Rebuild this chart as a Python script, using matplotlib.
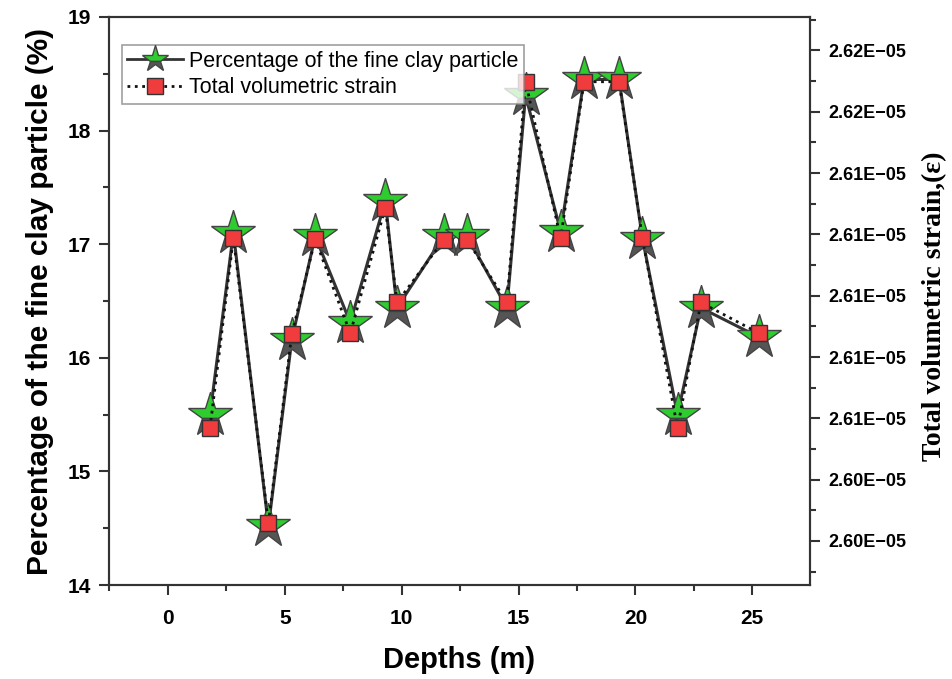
import matplotlib
matplotlib.use("Agg")
import matplotlib.pyplot as plt
from matplotlib.ticker import FixedLocator, FuncFormatter, MultipleLocator
from matplotlib.lines import Line2D

# ---- data ----
depth = [1.8, 2.8, 4.3, 5.3, 6.3, 7.8, 9.3, 9.8, 11.8, 12.8, 14.5, 15.3,
         16.8, 17.8, 19.3, 20.3, 21.8, 22.8, 25.3]
clay = [15.50, 17.10, 14.52, 16.16, 17.07, 16.31, 17.38, 16.44, 17.07, 17.07,
        16.44, 18.31, 17.11, 18.45, 18.45, 17.05, 15.50, 16.44, 16.18]
strain_e5 = [2.60548, 2.61168, 2.60239, 2.60855, 2.61164, 2.60857, 2.61267,
             2.60958, 2.61162, 2.61162, 2.60958, 2.61678, 2.61167, 2.61678,
             2.61678, 2.61167, 2.60547, 2.60958, 2.60857]
strain = [v * 1e-5 for v in strain_e5]

x_ticks = [0, 5, 10, 15, 20, 25]
left_ticks = [14, 15, 16, 17, 18, 19]
right_ticks_e5 = [2.6178, 2.6158, 2.6138, 2.6118, 2.6098, 2.6078, 2.6058, 2.6038, 2.6018]
right_ticks = [v * 1e-5 for v in right_ticks_e5]

label_clay = "Percentage of the fine clay particle"
label_strain = "Total volumetric strain"

plt.rcParams['font.family'] = ['Liberation Sans', 'DejaVu Sans']

fig = plt.figure(figsize=(9.53, 6.79), dpi=100)
ax = fig.add_axes([0.1144, 0.1384, 0.7356, 0.8366])
ax2 = ax.twinx()

frame_col = '#333333'
green = '#2ecc2e'
grey = '#555555'
red = '#f03c3c'

ax.plot(depth, clay, color='#333333', lw=2.2, ls='-', marker='*', ms=33,
        mfc=green, mfcalt=grey, fillstyle='top', mec='#444444', mew=1.0, zorder=3)
ax2.plot(depth, strain, color='#111111', lw=2.0, ls=':', marker='s', ms=11.5,
         mfc=red, mec='#333333', mew=1.0, zorder=3)

ax.set_xlim(-2.52, 27.47)
ax.set_ylim(14, 19)
ax2.set_ylim(2.600361e-5, 2.618893e-5)

ax.xaxis.set_major_locator(FixedLocator(x_ticks))
ax.xaxis.set_minor_locator(FixedLocator([-2.5, 2.5, 7.5, 12.5, 17.5, 22.5, 27.5]))
ax.yaxis.set_major_locator(FixedLocator(left_ticks))
ax.yaxis.set_minor_locator(MultipleLocator(0.5))
ax2.yaxis.set_major_locator(FixedLocator(right_ticks))
ax2.yaxis.set_minor_locator(FixedLocator([v - 1e-8 for v in right_ticks] + [right_ticks[0] + 1e-8]))
ax2.yaxis.set_major_formatter(FuncFormatter(lambda v, p: f"{v:.2E}".replace('-', '\u2212')))

for a in (ax, ax2):
    for s in a.spines.values():
        s.set_color(frame_col)
        s.set_linewidth(1.5)

ax.tick_params(axis='both', which='major', direction='out', length=7, width=1.5,
               color=frame_col, labelsize=15, pad=6)
ax.tick_params(axis='x', which='major', pad=10)
ax.tick_params(axis='both', which='minor', direction='out', length=4, width=1.5,
               color=frame_col)
ax.tick_params(axis='y', which='both', right=False)
ax2.tick_params(axis='y', which='major', direction='out', length=7, width=1.5,
                color=frame_col, labelsize=13, pad=6)
ax2.tick_params(axis='y', which='minor', direction='out', length=4, width=1.5,
                color=frame_col)
for lab in ax.get_xticklabels() + ax.get_yticklabels() + ax2.get_yticklabels():
    lab.set_fontweight('bold')

ax.set_xlabel("Depths (m)", fontsize=21, fontweight='bold', labelpad=13)
ax.set_ylabel("Percentage of the fine clay particle (%)", fontsize=21.5,
              fontweight='bold', labelpad=10)
ax2.set_ylabel("Total volumetric strain,(\u03b5)", fontsize=20, fontweight='bold',
               family=['Liberation Serif', 'DejaVu Serif'])
ax2.yaxis.set_label_coords(1.16, 0.49)

h1 = Line2D([], [], color='#333333', lw=2.0, ls='-', marker='*', ms=20,
            mfc=green, mfcalt=grey, fillstyle='top', mec='#444444', mew=1.0)
h2 = Line2D([], [], color='#111111', lw=2.0, ls=':', marker='s', ms=11,
            mfc=red, mec='#333333', mew=1.0)
leg = ax2.legend([h1, h2], [label_clay, label_strain], loc='upper left',
                 bbox_to_anchor=(0.018, 0.95), fontsize=15.5, frameon=True,
                 fancybox=False, edgecolor='#888888', handlelength=2.6,
                 handletextpad=0.3, borderpad=0.25, labelspacing=0.25,
                 borderaxespad=0.0)
leg.get_frame().set_linewidth(1.2)

fig.savefig("out.png", dpi=100)
